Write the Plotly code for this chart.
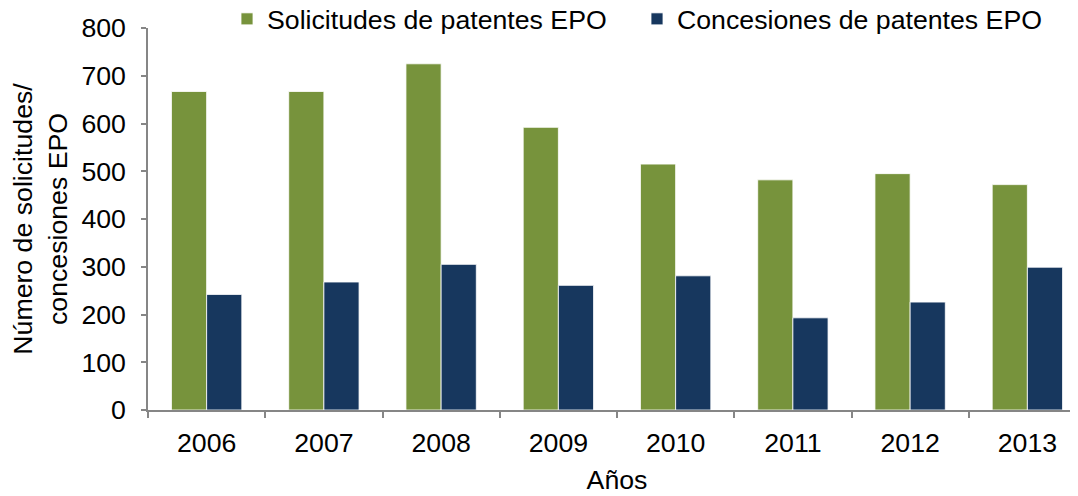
import plotly.graph_objects as go

years = ["2006", "2007", "2008", "2009", "2010", "2011", "2012", "2013"]
solicitudes = [667, 667, 725, 592, 515, 482, 495, 472]
concesiones = [242, 268, 305, 261, 281, 193, 226, 299]
y_ticks = [0, 100, 200, 300, 400, 500, 600, 700, 800]

GREEN = "#77933C"
BLUE = "#17375E"
AXIS = "#868686"
FONT = "Liberation Sans, Arial, sans-serif"
FS = 26.7

W, H = 1078, 496
L, R, T, B = 140, 0, 20, 94
plot_w = W - L - R
plot_h = H - T - B

fig = go.Figure()
fig.add_trace(go.Bar(
    x=years, y=solicitudes, name="Solicitudes de patentes EPO",
    marker=dict(color=GREEN, line=dict(color="rgba(255,255,255,0.8)", width=1)),
))
fig.add_trace(go.Bar(
    x=years, y=concesiones, name="Concesiones de patentes EPO",
    marker=dict(color=BLUE, line=dict(color="rgba(255,255,255,0.8)", width=1)),
))

fig.update_layout(
    width=W, height=H,
    margin=dict(l=L, r=R, t=T, b=B, autoexpand=False),
    paper_bgcolor="white", plot_bgcolor="white",
    font=dict(family=FONT, size=FS, color="black"),
    barmode="group", bargap=0.4, bargroupgap=0,
    legend=dict(
        orientation="h", yanchor="middle", xanchor="left",
        x=(219 - L) / plot_w, y=(H - B - 11) / plot_h,
        entrywidth=365, entrywidthmode="pixels",
        font=dict(family=FONT, size=FS, color="black"),
        bgcolor="rgba(0,0,0,0)", borderwidth=0,
    ),
    xaxis=dict(
        type="category",
        showline=True, linecolor=AXIS, linewidth=1.5,
        ticks="outside", tickson="boundaries", ticklen=6, tickcolor=AXIS, tickwidth=1.5,
        ticklabelstandoff=8,
        showgrid=False, zeroline=False,
        tickfont=dict(family=FONT, size=FS, color="black"),
        title=dict(text="Años", font=dict(family=FONT, size=FS, color="black"), standoff=14),
    ),
    yaxis=dict(
        range=[0, 800], tickvals=y_ticks,
        showline=True, linecolor=AXIS, linewidth=1.5,
        ticks="outside", ticklen=5, tickcolor=AXIS, tickwidth=1.5,
        ticklabelstandoff=10,
        showgrid=False, zeroline=False,
        tickfont=dict(family=FONT, size=FS, color="black"),
        title=dict(text="Número de solicitudes/<br>concesiones EPO",
                   font=dict(family=FONT, size=FS, color="black"), standoff=12),
    ),
)

fig.write_html("out.html")
